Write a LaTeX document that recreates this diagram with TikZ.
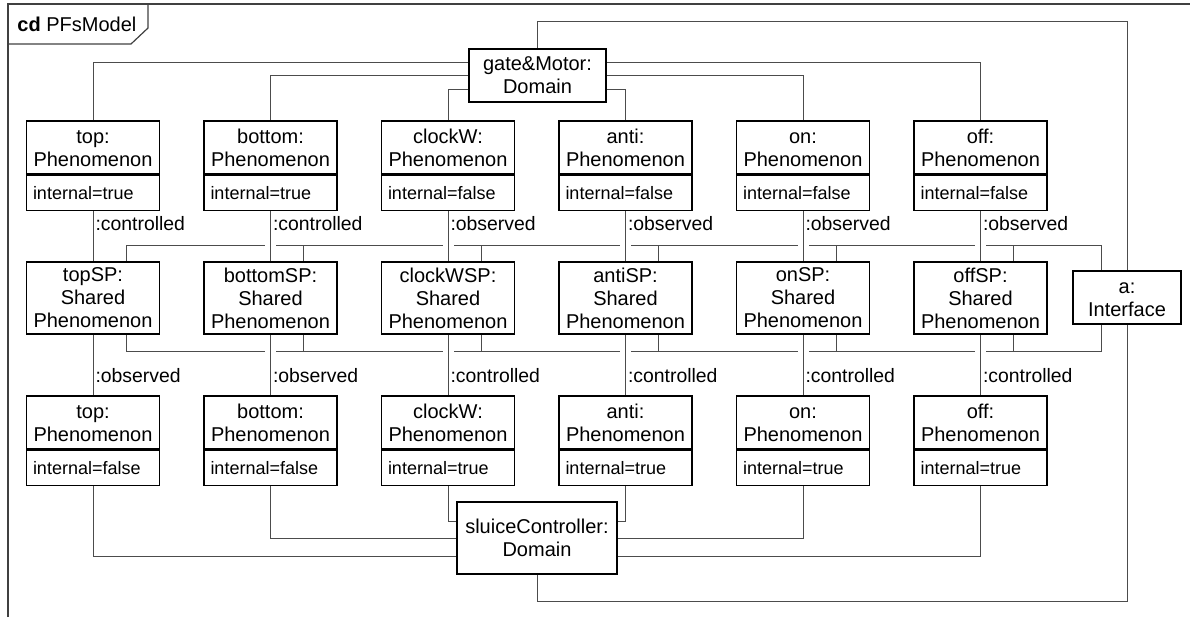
\documentclass[tikz,border=0pt]{standalone}
\usepackage{fontspec}
\setmainfont{Liberation Sans}
\usetikzlibrary{positioning}
\pgfdeclarelayer{background}
\pgfsetlayers{background,main}

\begin{document}
\begin{tikzpicture}[x=0.5pt,y=-0.5pt,
box/.style={draw=black, line width=0.6pt, fill=white, align=center, inner sep=0pt, font=\fontsize{10}{11.5}\selectfont},
phen/.style={box, minimum width=66.5pt, minimum height=26.5pt},
attr/.style={box, minimum width=66.5pt, minimum height=17.75pt, text width=60pt, align=left, font=\fontsize{9}{10}\selectfont},
shared/.style={box, minimum width=66.5pt, minimum height=36pt},
dombox/.style={box, minimum width=68.5pt, minimum height=26.5pt},
link/.style={draw=black!70, line width=0.5pt},
cross/.style={link, preaction={draw=white, line width=5.5pt}},
role/.style={font=\fontsize{9.7}{11}\selectfont, inner sep=1pt, anchor=west},
frame/.style={draw=black!75, line width=0.6pt},
]
\useasboundingbox (0,0) rectangle (1190,617);

% frame
\draw[frame] (8,617) -- (8,4) -- (1190,4);
\draw[frame] (8,44) -- (131,44) -- (148,28) -- (148,4);
\node[anchor=west, inner sep=0pt, font=\fontsize{10}{11.5}\selectfont] (title) at (17,24) {\textbf{cd} PFsModel};

% domains and interface
\node[dombox] (gm) at (537.5,75.5) {gate\&Motor:\\Domain};
\node[dombox, minimum width=80pt, minimum height=36pt] (sc) at (537,538) {sluiceController:\\Domain};
\node[dombox, minimum width=54pt] (ifc) at (1127,297.5) {a:\vphantom{b}\\Interface};

% phenomena
\foreach \n/\tv/\bv [count=\i] in {top/true/false, bottom/true/false, clockW/false/true, anti/false/true, on/false/true, off/false/true}{
  \pgfmathsetmacro\cx{93+177.5*(\i-1)}
  \node[phen] (t\i) at (\cx,147.5) {\n:\vphantom{b}\\Phenomenon};
  \node[attr, below=0pt of t\i] (ta\i) {internal=\tv};
  \node[shared] (s\i) at (\cx,298) {\n SP:\\Shared\\Phenomenon};
  \node[phen] (b\i) at (\cx,422.5) {\n:\vphantom{b}\\Phenomenon};
  \node[attr, below=0pt of b\i] (ba\i) {internal=\bv};
}

\begin{pgfonlayer}{background}
% interface buses
\draw[link] ([xshift=16.5pt]s1.north) -- ++(0,-16) -| ([xshift=-13pt]ifc.north);
\draw[link] ([xshift=16.5pt]s1.south) -- ++(0,17) -| ([xshift=-13pt]ifc.south);
\foreach \i in {2,...,6}{
  \draw[link] ([xshift=16.5pt]s\i.north) -- ++(0,-16);
  \draw[link] ([xshift=16.5pt]s\i.south) -- ++(0,17);
}

% gate&Motor
\draw[link] ([yshift=6.75pt]gm.west) -| (t1.north);
\draw[link] (gm.west) -| (t2.north);
\draw[link] ([yshift=-6.75pt]gm.west) -| (t3.north);
\draw[link] ([yshift=-6.75pt]gm.east) -| (t4.north);
\draw[link] (gm.east) -| (t5.north);
\draw[link] ([yshift=6.75pt]gm.east) -| (t6.north);
\draw[link] (gm.north) -- ++(0,-27) -| (ifc.north);

% sluiceController
\draw[link] ([yshift=8.5pt]sc.west) -| (ba3.south);
\draw[link] (sc.west) -| (ba2.south);
\draw[link] ([yshift=-9pt]sc.west) -| (ba1.south);
\draw[link] ([yshift=8.5pt]sc.east) -| (ba4.south);
\draw[link] (sc.east) -| (ba5.south);
\draw[link] ([yshift=-9pt]sc.east) -| (ba6.south);
\draw[link] (sc.south) -- ++(0,27) -| (ifc.south);

% sharing
\foreach \up/\dn [count=\i] in {controlled/observed, controlled/observed, observed/controlled, observed/controlled, observed/controlled, observed/controlled}{
  \draw[cross] (ta\i.south) -- node[role, pos=0.25] {:\up} (s\i.north);
  \draw[cross] (s\i.south) -- node[role, pos=0.68] {:\dn} (b\i.north);
}
\end{pgfonlayer}
\end{tikzpicture}
\end{document}
